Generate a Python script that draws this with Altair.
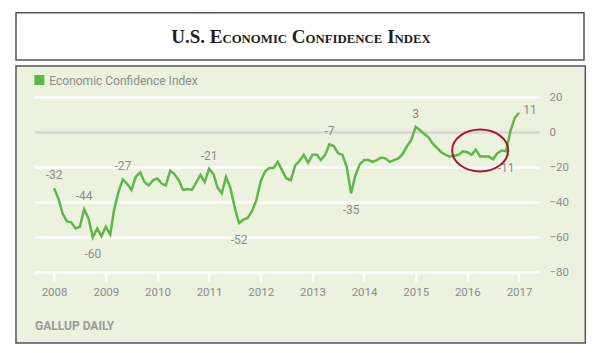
import altair as alt
import pandas as pd

# ---------------- data ----------------
start_month = "2008-01-01"
eci_values = [
    -32, -38, -46.5, -51, -51.5, -55, -54, -44, -49.5, -60, -55, -59.5,      # 2008
    -54, -58.5, -44, -34, -27, -29.5, -33, -25.5, -23, -28.5, -30.5, -27.5,  # 2009
    -26.5, -29.5, -30.5, -22, -24, -27.5, -33, -32.5, -33, -29, -24.5, -28.5,# 2010
    -21, -24, -31.5, -35, -25.5, -32, -43, -52, -50, -49, -45, -39,          # 2011
    -28, -22.5, -20.5, -20.5, -17, -22, -26.5, -27.5, -19, -16.5, -13, -17.5,# 2012
    -13, -13, -16, -13, -7, -8, -12, -13, -20, -35, -24.5, -18.5,            # 2013
    -16, -16, -17, -16, -14.5, -15, -17, -16, -15, -12.5, -8, -4.5,          # 2014
    3, 1, -1, -3, -6.5, -9, -11.5, -13, -14, -13.5, -13, -11,                # 2015
    -11.5, -13, -10, -14, -14, -14, -15.5, -12, -10.5, -11, 0.5, 8,          # 2016
    11,                                                                      # 2017
]
labels_above = [0, 7, 16, 36, 64, 84]
labels_below = [9, 43, 69, 105]
labels_right = [108]
series_name = "Economic Confidence Index"
y_ticks = [-80, -60, -40, -20, 0, 20]
highlight_date = ["2016-04-01"]
highlight_value = [-10.5]

dates = pd.date_range(start_month, periods=len(eci_values), freq="MS")
df = pd.DataFrame({"date": dates, "value": eci_values})


def lab(idx):
    return pd.DataFrame({
        "date": [dates[i] for i in idx],
        "value": [eci_values[i] for i in idx],
        "text": [f"{eci_values[i]:g}" for i in idx],
    })


# ---------------- style ----------------
GREEN = "#5cb947"
PANEL = "#edf2de"
GRAY = "#8c8c8c"
BORDER = "#555555"
FONT = "Roboto"

W, H = 504.3, 175.3
PAD = {"left": 34.7, "top": 97, "right": 61, "bottom": 80.7}

xscale = alt.Scale(domain=[alt.DateTime(year=2007, month=8, date=17),
                           alt.DateTime(year=2017, month=5, date=22)])
yscale = alt.Scale(domain=[-80, 20], nice=False)

xaxis = alt.Axis(format="%Y", tickCount={"interval": "year", "step": 1},
                 grid=False, domain=False, ticks=True, tickColor="white",
                 tickWidth=2, tickSize=9, labelColor=GRAY, labelFont=FONT,
                 labelFontSize=11.5, labelPadding=5, labelFlush=False)
yaxis = alt.Axis(orient="right", values=y_ticks, grid=True,
                 gridColor={"condition": {"test": "datum.value === 0", "value": "#d6d6d6"},
                            "value": "#ffffff"},
                 gridWidth=2.5, domain=False, ticks=False, labelPadding=10,
                 labelOverlap=False, labelColor=GRAY, labelFont=FONT, labelFontSize=11.5)


def X():
    return alt.X("date:T", scale=xscale, title=None, axis=xaxis)


def Y():
    return alt.Y("value:Q", scale=yscale, title=None, axis=yaxis)


dummy = pd.DataFrame({"a": [0]})


def box(x1, x2, y1, y2, **kw):
    # absolute page pixel coordinates converted to plot coordinates
    return alt.Chart(dummy).mark_rect(**kw).encode(
        x=alt.value(x1 - PAD["left"]), x2=alt.value(x2 - PAD["left"]),
        y=alt.value(y1 - PAD["top"]), y2=alt.value(y2 - PAD["top"]))


line = alt.Chart(df).mark_line(color=GREEN, strokeWidth=2.5).encode(x=X(), y=Y())

txt_kw = dict(font=FONT, fontSize=12, color=GRAY, baseline="middle")
above = alt.Chart(lab(labels_above)).mark_text(dy=-13, **txt_kw).encode(
    x=X(), y=Y(), text="text:N")
below = alt.Chart(lab(labels_below)).mark_text(dy=17, **txt_kw).encode(
    x=X(), y=Y(), text="text:N")
right = alt.Chart(lab(labels_right)).mark_text(dx=11, dy=-3, **txt_kw).encode(
    x=X(), y=Y(), text="text:N")

ellipse = alt.Chart(pd.DataFrame({"date": pd.to_datetime(highlight_date),
                                  "value": highlight_value})).mark_point(
    shape="M-1,0A1,0.75 0 1,0 1,0A1,0.75 0 1,0 -1,0Z", size=56 * 56,
    filled=False, stroke="#a31c2f", strokeWidth=2, opacity=1).encode(
    x=X(), y=Y())

# white masks around the green panel
masks = [
    box(0, 600, 0, 66, color="white"),
    box(0, 16, 0, 353, color="white"),
    box(585.3, 600, 0, 353, color="white"),
    box(0, 600, 343, 353, color="white"),
]
panel_border = box(16, 585.3, 66, 343, fill=None, filled=False, stroke=BORDER, strokeWidth=1.5)
title_box = box(16, 584, 12.7, 60, fill="white", stroke=BORDER, strokeWidth=1.5)

# title in small caps, built from pieces (Liberation Serif Bold metrics)
WID = {"U": 722, ".": 250, "S": 556, " ": 250, "E": 667, "C": 722, "O": 778, "N": 722,
       "M": 944, "I": 389, "F": 611, "D": 722, "X": 722}
BIG, SMALL = 19, 12.8
pieces = [("U.S. E", BIG, False), ("CONOMIC", SMALL, False), ("C", BIG, True),
          ("ONFIDENCE", SMALL, False), ("I", BIG, True), ("NDEX", SMALL, False)]
total = 0
for s, sz, sp in pieces:
    total += (WID[" "] * sz / 1000 if sp else 0) + sum(WID[c] for c in s) * sz / 1000
xcur = 301 - total / 2
title_layers = []
for s, sz, sp in pieces:
    if sp:
        xcur += WID[" "] * sz / 1000
    title_layers.append(alt.Chart(dummy).mark_text(
        text=s, font="Liberation Serif", fontWeight="bold", fontSize=sz, color="#1e1e1e",
        align="left", baseline="alphabetic").encode(
        x=alt.value(xcur - PAD["left"]), y=alt.value(43.3 - PAD["top"])))
    xcur += sum(WID[c] for c in s) * sz / 1000

legend_sq = box(34.3, 44.3, 75, 85, color=GREEN)
legend_txt = alt.Chart(dummy).mark_text(
    text=series_name, font=FONT, fontSize=12, color=GRAY, align="left", baseline="middle").encode(
    x=alt.value(49.3 - PAD["left"]), y=alt.value(80.5 - PAD["top"]))
source_txt = alt.Chart(dummy).mark_text(
    text="GALLUP DAILY", font=FONT, fontSize=12, fontWeight="bold", color="#9a9a9a",
    align="left", baseline="middle").encode(
    x=alt.value(35 - PAD["left"]), y=alt.value(326 - PAD["top"]))

chart = alt.layer(
    line, above, below, right, ellipse,
    *masks, panel_border, title_box, *title_layers, legend_sq, legend_txt, source_txt,
).properties(
    width=W, height=H,
    autosize=alt.AutoSizeParams(type="none"),
    padding=PAD,
    background=PANEL,
).configure_view(stroke=None)

chart.save("out.html", embed_options={"renderer": "svg", "actions": False})
